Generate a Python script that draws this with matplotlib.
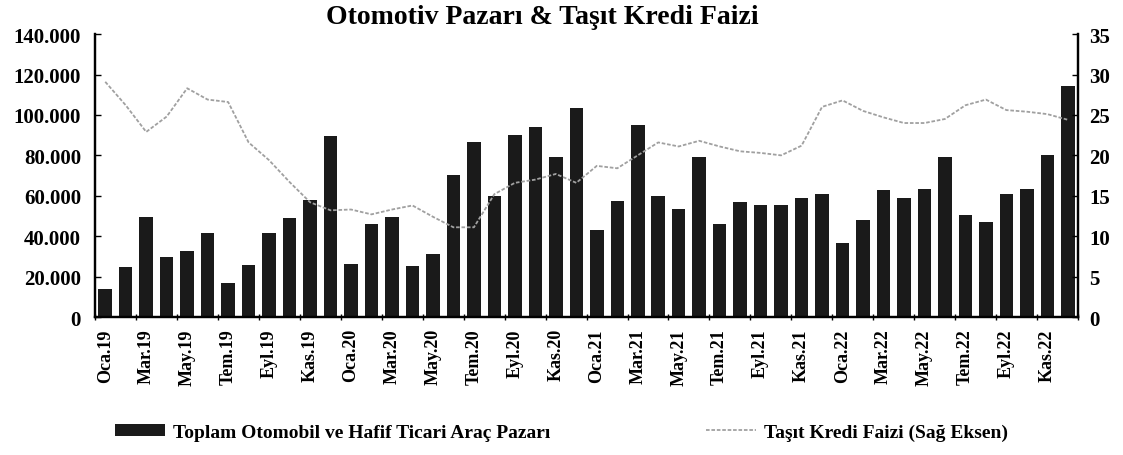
import numpy as np
import matplotlib
matplotlib.use('Agg')
import matplotlib.pyplot as plt
from matplotlib.ticker import FuncFormatter, FixedLocator

plt.rcParams['font.family'] = ['Liberation Serif', 'DejaVu Serif']
plt.rcParams['font.weight'] = 'bold'

months = ['Oca', 'Şub', 'Mar', 'Nis', 'May', 'Haz',
          'Tem', 'Ağu', 'Eyl', 'Eki', 'Kas', 'Ara']
years = ['19', '20', '21', '22']
periods = [m + '.' + y for y in years for m in months]

# toplam otomobil + hafif ticari satış (adet)
market = [14000, 24600, 49300, 29800, 32800, 41600, 17000, 25500, 41400, 49000, 57700, 89600,
          26000, 45800, 49300, 25000, 31200, 70100, 86400, 59900, 90200, 93900, 79400, 103600,
          43100, 57200, 95200, 59700, 53500, 79000, 46200, 56900, 55200, 55200, 58900, 60700,
          36600, 48000, 62700, 59100, 63200, 79000, 50600, 47000, 60700, 63400, 80300, 114400]

# taşıt kredisi faizi (%)
rate = [29.1, 26.2, 22.9, 24.8, 28.3, 26.9, 26.6, 21.6, 19.4, 16.7, 14.2, 13.2,
        13.3, 12.7, 13.3, 13.8, 12.4, 11.1, 11.1, 15.2, 16.6, 17.0, 17.7, 16.6,
        18.7, 18.4, 20.0, 21.6, 21.1, 21.8, 21.1, 20.5, 20.3, 20.0, 21.2, 26.0,
        26.8, 25.5, 24.7, 24.0, 24.0, 24.5, 26.2, 26.9, 25.6, 25.4, 25.1, 24.4]

x = np.arange(len(periods))

fig = plt.figure(figsize=(11.23, 4.56), dpi=100)
ax = fig.add_axes([0.0846, 0.3026, 0.8754, 0.6204])
ax2 = ax.twinx()

bars = ax.bar(x, market, width=0.66, color='#1a1a1a', zorder=2,
              label='Toplam Otomobil ve Hafif Ticari Araç Pazarı')
line, = ax2.plot(x, rate, color='#a0a0a0', lw=1.3, linestyle=(0, (2, 1)),
                 label='Taşıt Kredi Faizi (Sağ Eksen)')

ax.set_xlim(-0.5, len(periods) - 0.5)
ax.set_ylim(0, 140000)
ax2.set_ylim(0, 35)
ax.set_yticks(np.arange(0, 140001, 20000))
ax2.set_yticks(np.arange(0, 36, 5))
ax.yaxis.set_major_formatter(FuncFormatter(lambda v, p: f'{int(v):,}'.replace(',', '.')))

ax.set_xticks(x[::2])
ax.set_xticklabels(periods[::2], rotation=90, fontsize=13, fontweight='bold')
ax.xaxis.set_minor_locator(FixedLocator(np.arange(-0.5, len(periods), 2)))
ax.tick_params(axis='x', which='major', length=0, pad=8)
ax.tick_params(axis='x', which='minor', length=5, direction='inout', width=1)
ax.tick_params(axis='y', labelsize=15, length=4, direction='in', width=1, pad=10)
ax2.tick_params(axis='y', labelsize=15, length=4, direction='in', width=1, pad=8)

for a in (ax, ax2):
    a.spines['top'].set_visible(False)
    for s in ('left', 'right', 'bottom'):
        a.spines[s].set_linewidth(1.6)

fig.text(0.483, 0.962, 'Otomotiv Pazarı & Taşıt Kredi Faizi', ha='center', va='center',
         fontsize=20, fontweight='bold')

fig.legend([bars, line], [bars.get_label(), line.get_label()], loc='center',
           bbox_to_anchor=(0.5, 0.05), ncol=2, frameon=False, fontsize=14,
           handlelength=2.6, handleheight=0.6, columnspacing=8, handletextpad=0.4)

fig.savefig('out.png', dpi=100)
